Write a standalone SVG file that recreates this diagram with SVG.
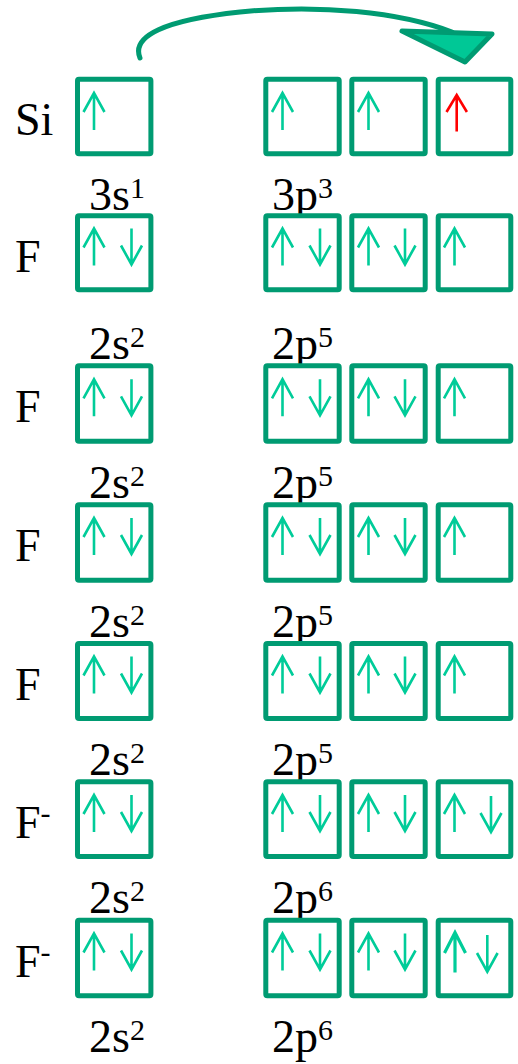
<svg xmlns="http://www.w3.org/2000/svg" width="518" height="1064" viewBox="0 0 518 1064">
<style>
.box{fill:#ffffff;stroke:#009B72;stroke-width:5;stroke-linejoin:round}
.spin{fill:none;stroke:#00CC99;stroke-width:2.6}
.red{fill:none;stroke:#FF0000;stroke-width:2.6}
.conn{fill:none;stroke:#009B72;stroke-width:5;stroke-linecap:round}
.head{fill:#00C896;stroke:#009B72;stroke-width:5;stroke-linejoin:round}
</style>
<defs>
<path id="up" d="M0,0 V37 M-10.5,19 L0,0 L10.5,19"/>
<path id="dn" d="M0,0 V36 M-10.5,17 L0,36 L10.5,17"/>
</defs>
<rect width="518" height="1064" fill="#ffffff"/>

<g id="connectors">
<path class="conn" d="M140,58 C131,36 165,20 240,12 C320,4 400,12 452,32"/>
<polygon class="head" points="402,31 492,34 465,62"/>
</g>

<g id="row-si">
<rect class="box" x="77.5" y="79.2" width="73.4" height="74.5" rx="1.5"/>
<rect class="box" x="265.8" y="79.2" width="73.4" height="74.5" rx="1.5"/>
<rect class="box" x="351.8" y="79.2" width="73.4" height="74.5" rx="1.5"/>
<rect class="box" x="438.2" y="79.2" width="72.6" height="74.5" rx="1.5"/>
<use href="#up" class="spin" x="94" y="93"/>
<use href="#up" class="spin" x="282.5" y="93"/>
<use href="#up" class="spin" x="368.5" y="93"/>
<path class="red" d="M456.7,95 V131.5 M446.5,112 L456.7,95 L466.9,112"/>
<text x="15" y="135" font-family="Liberation Serif, Times New Roman, serif" font-size="46">Si</text>
<text x="89" y="210" font-family="Liberation Serif, Times New Roman, serif" font-size="46">3s<tspan font-size="30" dy="-12">1</tspan></text>
<text x="272" y="210" font-family="Liberation Serif, Times New Roman, serif" font-size="46">3p<tspan font-size="30" dy="-12">3</tspan></text>
</g>

<g id="row-f1">
<rect class="box" x="77.5" y="215.8" width="73.4" height="74" rx="1.5"/>
<rect class="box" x="265.8" y="215.8" width="73.4" height="74" rx="1.5"/>
<rect class="box" x="351.8" y="215.8" width="73.4" height="74" rx="1.5"/>
<rect class="box" x="438.2" y="215.8" width="72.6" height="74" rx="1.5"/>
<use href="#up" class="spin" x="94" y="228.5"/>
<use href="#dn" class="spin" x="131.5" y="228.5"/>
<use href="#up" class="spin" x="282.5" y="228.5"/>
<use href="#dn" class="spin" x="320" y="228.5"/>
<use href="#up" class="spin" x="368.5" y="228.5"/>
<use href="#dn" class="spin" x="405" y="228.5"/>
<use href="#up" class="spin" x="454.5" y="228.5"/>
<text x="15" y="272" font-family="Liberation Serif, Times New Roman, serif" font-size="46">F</text>
<text x="89" y="359" font-family="Liberation Serif, Times New Roman, serif" font-size="46">2s<tspan font-size="30" dy="-12">2</tspan></text>
<text x="272" y="359" font-family="Liberation Serif, Times New Roman, serif" font-size="46">2p<tspan font-size="30" dy="-12">5</tspan></text>
</g>

<g id="row-f2">
<rect class="box" x="77.5" y="365.8" width="73.4" height="75.5" rx="1.5"/>
<rect class="box" x="265.8" y="365.8" width="73.4" height="75.5" rx="1.5"/>
<rect class="box" x="351.8" y="365.8" width="73.4" height="75.5" rx="1.5"/>
<rect class="box" x="438.2" y="365.8" width="72.6" height="75.5" rx="1.5"/>
<use href="#up" class="spin" x="94" y="379.3"/>
<use href="#dn" class="spin" x="131.5" y="379.3"/>
<use href="#up" class="spin" x="282.5" y="379.3"/>
<use href="#dn" class="spin" x="320" y="379.3"/>
<use href="#up" class="spin" x="368.5" y="379.3"/>
<use href="#dn" class="spin" x="405" y="379.3"/>
<use href="#up" class="spin" x="454.5" y="379.3"/>
<text x="15" y="421.7" font-family="Liberation Serif, Times New Roman, serif" font-size="46">F</text>
<text x="89" y="498" font-family="Liberation Serif, Times New Roman, serif" font-size="46">2s<tspan font-size="30" dy="-12">2</tspan></text>
<text x="272" y="498" font-family="Liberation Serif, Times New Roman, serif" font-size="46">2p<tspan font-size="30" dy="-12">5</tspan></text>
</g>

<g id="row-f3">
<rect class="box" x="77.5" y="504.8" width="73.4" height="75.4" rx="1.5"/>
<rect class="box" x="265.8" y="504.8" width="73.4" height="75.4" rx="1.5"/>
<rect class="box" x="351.8" y="504.8" width="73.4" height="75.4" rx="1.5"/>
<rect class="box" x="438.2" y="504.8" width="72.6" height="75.4" rx="1.5"/>
<use href="#up" class="spin" x="94" y="518"/>
<use href="#dn" class="spin" x="131.5" y="518"/>
<use href="#up" class="spin" x="282.5" y="518"/>
<use href="#dn" class="spin" x="320" y="518"/>
<use href="#up" class="spin" x="368.5" y="518"/>
<use href="#dn" class="spin" x="405" y="518"/>
<use href="#up" class="spin" x="454.5" y="518"/>
<text x="15" y="560.8" font-family="Liberation Serif, Times New Roman, serif" font-size="46">F</text>
<text x="89" y="636.5" font-family="Liberation Serif, Times New Roman, serif" font-size="46">2s<tspan font-size="30" dy="-12">2</tspan></text>
<text x="272" y="636.5" font-family="Liberation Serif, Times New Roman, serif" font-size="46">2p<tspan font-size="30" dy="-12">5</tspan></text>
</g>

<g id="row-f4">
<rect class="box" x="77.5" y="643.5" width="73.4" height="75" rx="1.5"/>
<rect class="box" x="265.8" y="643.5" width="73.4" height="75" rx="1.5"/>
<rect class="box" x="351.8" y="643.5" width="73.4" height="75" rx="1.5"/>
<rect class="box" x="438.2" y="643.5" width="72.6" height="75" rx="1.5"/>
<use href="#up" class="spin" x="94" y="656.5"/>
<use href="#dn" class="spin" x="131.5" y="656.5"/>
<use href="#up" class="spin" x="282.5" y="656.5"/>
<use href="#dn" class="spin" x="320" y="656.5"/>
<use href="#up" class="spin" x="368.5" y="656.5"/>
<use href="#dn" class="spin" x="405" y="656.5"/>
<use href="#up" class="spin" x="454.5" y="656.5"/>
<text x="15" y="699.5" font-family="Liberation Serif, Times New Roman, serif" font-size="46">F</text>
<text x="89" y="775" font-family="Liberation Serif, Times New Roman, serif" font-size="46">2s<tspan font-size="30" dy="-12">2</tspan></text>
<text x="272" y="775" font-family="Liberation Serif, Times New Roman, serif" font-size="46">2p<tspan font-size="30" dy="-12">5</tspan></text>
</g>

<g id="row-fminus1">
<rect class="box" x="77.5" y="781.8" width="73.4" height="74.7" rx="1.5"/>
<rect class="box" x="265.8" y="781.8" width="73.4" height="74.7" rx="1.5"/>
<rect class="box" x="351.8" y="781.8" width="73.4" height="74.7" rx="1.5"/>
<rect class="box" x="438.2" y="781.8" width="72.6" height="74.7" rx="1.5"/>
<use href="#up" class="spin" x="94" y="795"/>
<use href="#dn" class="spin" x="131.5" y="795"/>
<use href="#up" class="spin" x="282.5" y="795"/>
<use href="#dn" class="spin" x="320" y="795"/>
<use href="#up" class="spin" x="368.5" y="795"/>
<use href="#dn" class="spin" x="405" y="795"/>
<use href="#up" class="spin" x="454.5" y="795"/>
<use href="#dn" class="spin" x="491" y="796"/>
<text x="15" y="838" font-family="Liberation Serif, Times New Roman, serif" font-size="46">F<tspan font-size="30" dy="-15">-</tspan></text>
<text x="89" y="913" font-family="Liberation Serif, Times New Roman, serif" font-size="46">2s<tspan font-size="30" dy="-12">2</tspan></text>
<text x="272" y="913" font-family="Liberation Serif, Times New Roman, serif" font-size="46">2p<tspan font-size="30" dy="-12">6</tspan></text>
</g>

<g id="row-fminus2">
<rect class="box" x="77.5" y="920.2" width="73.4" height="75.6" rx="1.5"/>
<rect class="box" x="265.8" y="920.2" width="73.4" height="75.6" rx="1.5"/>
<rect class="box" x="351.8" y="920.2" width="73.4" height="75.6" rx="1.5"/>
<rect class="box" x="438.2" y="920.2" width="72.6" height="75.6" rx="1.5"/>
<use href="#up" class="spin" x="94" y="933.5"/>
<use href="#dn" class="spin" x="131.5" y="933.5"/>
<use href="#up" class="spin" x="282.5" y="933.5"/>
<use href="#dn" class="spin" x="320" y="933.5"/>
<use href="#up" class="spin" x="368.5" y="933.5"/>
<use href="#dn" class="spin" x="405" y="933.5"/>
<path class="spin" style="stroke-width:3.2" d="M455,932.5 V972.5 M444.5,953 L455,932.5 L465.5,953"/>
<path class="spin" d="M487.3,935 V971.7 M477,953 L487.3,971.7 L497.6,953"/>
<text x="15" y="976.5" font-family="Liberation Serif, Times New Roman, serif" font-size="46">F<tspan font-size="30" dy="-15">-</tspan></text>
<text x="89" y="1052" font-family="Liberation Serif, Times New Roman, serif" font-size="46">2s<tspan font-size="30" dy="-12">2</tspan></text>
<text x="272" y="1052" font-family="Liberation Serif, Times New Roman, serif" font-size="46">2p<tspan font-size="30" dy="-12">6</tspan></text>
</g>
</svg>
